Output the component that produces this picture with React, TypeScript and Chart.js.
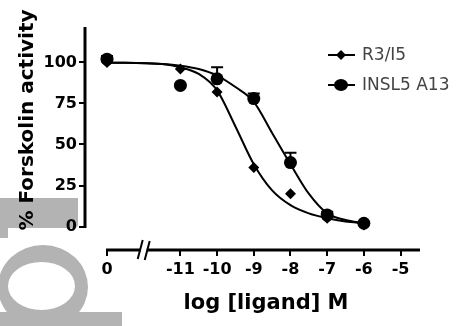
import React, { useEffect, useRef } from "react";
import { Chart, registerables } from "chart.js";

Chart.register(...registerables);

// ---- data ----
const seriesNames = ["R3/I5", "INSL5 A13"];
const xTitle = "log [ligand] M";
const yTitle = "% Forskolin activity";

// -13 stands for the control ("0") placed before the axis break
const xTickValues = [-13, -11, -10, -9, -8, -7, -6, -5];
const xTickLabels = ["0", "-11", "-10", "-9", "-8", "-7", "-6", "-5"];
const yTickValues = [0, 25, 50, 75, 100];
const breakAt = -12;

const doseLog = [-13, -11, -10, -9, -8, -7, -6];
const r3i5 = [100, 96, 82, 36, 20, 5, 1];
const insl5 = [102, 86, 90, 78, 39, 7, 2];
const r3i5Err = [2, 0, 0, 0, 0, 0, 0];
const insl5Err = [2, 0, 7, 3, 6, 2, 0];

const fitX = [-13, -11.5, -11, -10.5, -10, -9.5, -9, -8.5, -8, -7.5, -7, -6.5, -6];
const r3i5Fit = [100, 99, 97, 93, 83, 61, 38, 22, 13, 8, 5, 3, 2];
const insl5Fit = [100, 99, 98, 96, 92, 85, 76, 57, 38, 20, 8, 4, 2];

const FONT = "'DejaVu Sans', 'Liberation Sans', Arial, sans-serif";

const pts = (xs: number[], ys: number[]) => xs.map((x, i) => ({ x, y: ys[i] }));

const decorPlugin = {
  id: "decor",
  afterDraw(chart: any) {
    const { ctx, chartArea, scales } = chart;
    const x = scales.x;
    const y = scales.y;
    ctx.save();
    ctx.strokeStyle = "#000";
    ctx.fillStyle = "#000";
    ctx.lineCap = "butt";

    // axis lines (offset GraphPad style)
    ctx.lineWidth = 3;
    ctx.beginPath();
    ctx.moveTo(chartArea.left, y.getPixelForValue(0) + 1.5);
    ctx.lineTo(chartArea.left, chartArea.top);
    ctx.stroke();
    ctx.beginPath();
    ctx.moveTo(x.getPixelForValue(xTickValues[0]) - 1, chartArea.bottom);
    ctx.lineTo(chartArea.right, chartArea.bottom);
    ctx.stroke();

    // axis break marks
    const bx = x.getPixelForValue(breakAt);
    const by = chartArea.bottom;
    ctx.fillStyle = "#fff";
    ctx.fillRect(bx - 3, by - 3, 6, 6);
    ctx.fillStyle = "#000";
    ctx.lineWidth = 2;
    ctx.beginPath();
    ctx.moveTo(bx - 6, by + 9);
    ctx.lineTo(bx - 1, by - 10);
    ctx.moveTo(bx + 1, by + 10);
    ctx.lineTo(bx + 6, by - 9);
    ctx.stroke();

    // error bars (upper only)
    const drawErr = (vals: number[], errs: number[]) => {
      vals.forEach((v, i) => {
        const e = errs[i];
        if (!e) return;
        const px = x.getPixelForValue(doseLog[i]);
        const p0 = y.getPixelForValue(v);
        const p1 = y.getPixelForValue(v + e);
        ctx.lineWidth = 2;
        ctx.beginPath();
        ctx.moveTo(px, p0);
        ctx.lineTo(px, p1);
        ctx.moveTo(px - 6, p1);
        ctx.lineTo(px + 6, p1);
        ctx.stroke();
      });
    };
    drawErr(r3i5, r3i5Err);
    drawErr(insl5, insl5Err);

    // legend
    const lx0 = 328, lx1 = 355, mx = 341;
    const rows = [55, 85];
    ctx.font = `17px ${FONT}`;
    ctx.textBaseline = "middle";
    ctx.textAlign = "left";
    rows.forEach((ry, i) => {
      ctx.lineWidth = 2;
      ctx.beginPath();
      ctx.moveTo(lx0, ry);
      ctx.lineTo(lx1, ry);
      ctx.stroke();
      ctx.beginPath();
      if (i === 0) {
        ctx.moveTo(mx, ry - 5);
        ctx.lineTo(mx + 5, ry);
        ctx.lineTo(mx, ry + 5);
        ctx.lineTo(mx - 5, ry);
        ctx.closePath();
      } else {
        ctx.ellipse(mx, ry, 7, 6, 0, 0, Math.PI * 2);
      }
      ctx.fill();
      ctx.fillStyle = "#444";
      ctx.fillText(seriesNames[i], 362, ry + 1);
      ctx.fillStyle = "#000";
    });

    // axis titles
    ctx.fillStyle = "#000";
    ctx.font = `bold 21px ${FONT}`;
    ctx.textAlign = "center";
    ctx.textBaseline = "alphabetic";
    ctx.fillText(xTitle, 266, 309);

    ctx.font = `bold 20px ${FONT}`;
    ctx.translate(33, 120);
    ctx.rotate(-Math.PI / 2);
    ctx.fillText(yTitle, 0, 0);
    ctx.restore();
  },
};

export default function App() {
  const ref = useRef<HTMLCanvasElement | null>(null);

  useEffect(() => {
    document.documentElement.style.margin = "0";
    document.body.style.margin = "0";
    document.body.style.overflow = "hidden";
    const canvas = ref.current;
    if (!canvas) return;

    const chart = new Chart(canvas, {
      type: "line",
      data: {
        datasets: [
          {
            label: seriesNames[0],
            data: pts(doseLog, r3i5),
            showLine: false,
            pointStyle: "rectRot",
            pointRadius: 5.5,
            backgroundColor: "#000",
            borderColor: "#000",
            borderWidth: 0,
          },
          {
            label: seriesNames[1],
            data: pts(doseLog, insl5),
            showLine: false,
            pointStyle: "circle",
            pointRadius: 6.5,
            backgroundColor: "#000",
            borderColor: "#000",
            borderWidth: 0,
          },
          {
            label: seriesNames[0] + " fit",
            data: pts(fitX, r3i5Fit),
            pointRadius: 0,
            borderColor: "#000",
            borderWidth: 2,
            cubicInterpolationMode: "monotone",
            fill: false,
          },
          {
            label: seriesNames[1] + " fit",
            data: pts(fitX, insl5Fit),
            pointRadius: 0,
            borderColor: "#000",
            borderWidth: 2,
            cubicInterpolationMode: "monotone",
            fill: false,
          },
        ],
      },
      options: {
        responsive: false,
        animation: false,
        events: [],
        layout: { padding: { top: 27, right: 37, left: 0, bottom: 0 } },
        plugins: { legend: { display: false }, tooltip: { enabled: false }, title: { display: false } },
        scales: {
          x: {
            type: "linear",
            min: -13.6,
            max: -4.47,
            afterBuildTicks: (s: any) => {
              s.ticks = xTickValues.map((v) => ({ value: v }));
            },
            afterFit: (s: any) => {
              s.height = 76;
            },
            ticks: {
              autoSkip: false,
              maxRotation: 0,
              padding: 4,
              color: "#000",
              font: { family: FONT, size: 16, weight: "bold" },
              callback: (_v: any, i: number) => xTickLabels[i],
            },
            grid: { drawOnChartArea: false, drawTicks: true, tickLength: 6, color: "#000", lineWidth: 2 },
            border: { display: false },
          },
          y: {
            type: "linear",
            min: -14.3,
            max: 121.6,
            afterBuildTicks: (s: any) => {
              s.ticks = yTickValues.map((v) => ({ value: v }));
            },
            afterFit: (s: any) => {
              s.width = 85;
            },
            ticks: {
              padding: 2,
              color: "#000",
              font: { family: FONT, size: 16, weight: "bold" },
            },
            grid: { drawOnChartArea: false, drawTicks: true, tickLength: 6, color: "#000", lineWidth: 2 },
            border: { display: false },
          },
        },
      },
      plugins: [decorPlugin],
    } as any);

    return () => chart.destroy();
  }, []);

  const gray = "#b3b3b3";
  return (
    <div style={{ position: "relative", width: 457, height: 326, background: "#fff", overflow: "hidden" }}>
      <div style={{ position: "absolute", left: 0, top: 198, width: 78, height: 30, background: gray, borderBottomRightRadius: 4 }} />
      <div style={{ position: "absolute", left: 0, top: 226, width: 8, height: 12, background: gray }} />
      <div style={{ position: "absolute", left: -2, top: 245, width: 90, height: 84, borderRadius: "50%", background: gray }} />
      <div style={{ position: "absolute", left: 8, top: 262, width: 67, height: 48, borderRadius: "50%", background: "#fff" }} />
      <div style={{ position: "absolute", left: 0, top: 312, width: 122, height: 14, background: gray }} />
      <canvas ref={ref} width={457} height={326} style={{ position: "absolute", left: 0, top: 0, display: "block" }} />
    </div>
  );
}
